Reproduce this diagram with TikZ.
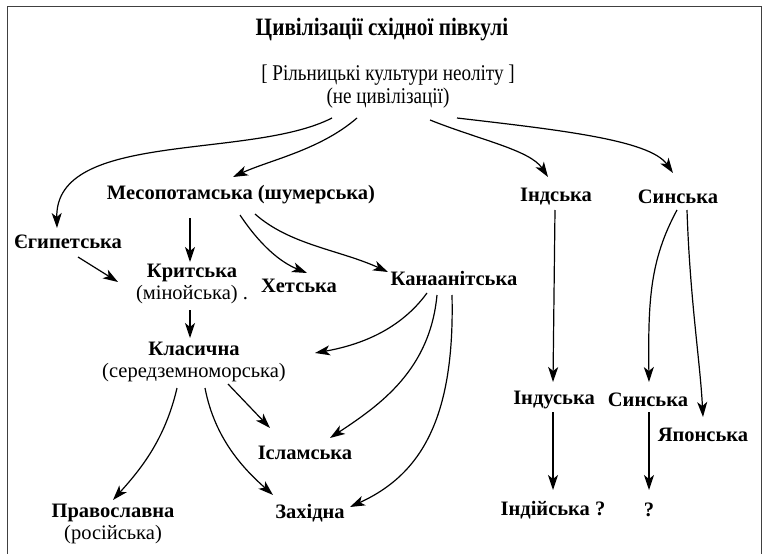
\documentclass[tikz,border=0pt]{standalone}
\usepackage{fontspec}
\setmainfont{Liberation Serif}
\newfontfamily\condfont[FakeStretch=0.85]{Liberation Serif}
\usetikzlibrary{arrows.meta,calc}
\begin{document}
\begin{tikzpicture}[x=1pt,y=-1pt,
  lbl/.style={font=\fontsize{20.5}{21.5}\selectfont\bfseries, inner sep=0pt, align=center},
  ttl/.style={font=\condfont\fontsize{25}{28}\selectfont\bfseries, inner sep=0pt},
  top/.style={font=\condfont\fontsize{22.5}{26}\selectfont, inner sep=0pt},
  arr/.style={line width=1.2pt, -{Stealth[length=15pt,width=10pt,inset=4pt]}},
  frame/.style={draw=black!75, line width=1pt}]
\useasboundingbox (0,0) rectangle (764,554);
\draw[frame] (7,554) -- (7,6) -- (761,6) -- (761,554);
\node[ttl] (title) at (382,30) {Цивілізації східної півкулі};
\node[top] (root) at (388,75) {[ Рільницькі культури неоліту ]};
\node[top] (rootsub) at (388,98) {(не цивілізації)};
\node[lbl] (egy) at (68,242) {Єгипетська};
\node[lbl] (mes) at (241,195) {Месопотамська (шумерська)};
\node[lbl] (kri) at (192,284) {Критська\\{\mdseries (мінойська) .}};
\node[lbl] (het) at (299,286) {Хетська};
\node[lbl] (kan) at (454,278) {Канаанітська};
\node[lbl] (kla) at (194,362) {Класична\\{\mdseries (середземноморська)}};
\node[lbl] (isl) at (305,453) {Ісламська};
\node[lbl] (pra) at (113,524) {Православна\\{\mdseries (російська)}};
\node[lbl] (zah) at (310,513) {Західна};
\node[lbl] (ind) at (556,197) {Індська};
\node[lbl] (sin) at (678,197) {Синська};
\node[lbl] (indu) at (554,400) {Індуська};
\node[lbl] (sin2) at (648,400) {Синська};
\node[lbl] (jap) at (703,435) {Японська};
\node[lbl] (indi) at (553,510) {Індійська ?};
\node[lbl] (q) at (649,510) {?};
% from root
\draw[arr] ($(rootsub)+(-56,20)$) .. controls (250,160) and (55,130) .. ($(egy)+(-11,-14)$);
\draw[arr] ($(rootsub)+(-31,20)$) .. controls (320,150) and (270,160) .. ($(mes)+(-8,-18)$);
\draw[arr] ($(rootsub)+(42,22)$) .. controls (480,140) and (530,150) .. ($(ind)+(-8,-20)$);
\draw[arr] ($(rootsub)+(69,20)$) .. controls (560,130) and (650,140) .. ($(sin)+(-5,-24)$);
% Mesopotamian
\draw[arr] ($(mes)+(-51,23)$) -- ($(kri)+(-2,-22)$);
\draw[arr] ($(mes)+(-1,20)$) .. controls (260,245) and (280,262) .. ($(het)+(8,-13)$);
\draw[arr] ($(mes)+(14,19)$) .. controls (290,245) and (340,250) .. ($(kan)+(-66,-6)$);
\draw[arr] ($(egy)+(10,15)$) -- ($(kri)+(-74,-2)$);
\draw[arr] ($(kri)+(-2,26)$) -- ($(kla)+(-4,-24)$);
% Canaanite
\draw[arr] ($(kan)+(-27,15)$) .. controls (400,330) and (360,345) .. ($(kla)+(121,-9)$);
\draw[arr] ($(kan)+(-17,17)$) .. controls (430,370) and (380,405) .. ($(isl)+(25,-15)$);
\draw[arr] ($(kan)+(-2,17)$) .. controls (455,420) and (420,475) .. ($(zah)+(40,-6)$);
% Classical
\draw[arr] ($(kla)+(-17,26)$) .. controls (165,440) and (140,470) .. ($(pra)+(0,-24)$);
\draw[arr] ($(kla)+(11,26)$) .. controls (215,440) and (245,470) .. ($(zah)+(-37,-18)$);
\draw[arr] ($(kla)+(34,22)$) -- ($(isl)+(-35,-25)$);
% India and China
\draw[arr] ($(ind)+(-1,13)$) -- ($(indu)+(-1,-18)$);
\draw[arr] ($(sin)+(-1,13)$) .. controls (650,260) and (648,300) .. ($(sin2)+(1,-18)$);
\draw[arr] ($(sin)+(9,13)$) .. controls (690,300) and (700,360) .. ($(jap)+(0,-18)$);
\draw[arr] ($(indu)+(-1,12)$) -- ($(indi)+(0,-20)$);
\draw[arr] ($(sin2)+(1,12)$) -- ($(q)+(0,-20)$);
\end{tikzpicture}
\end{document}
